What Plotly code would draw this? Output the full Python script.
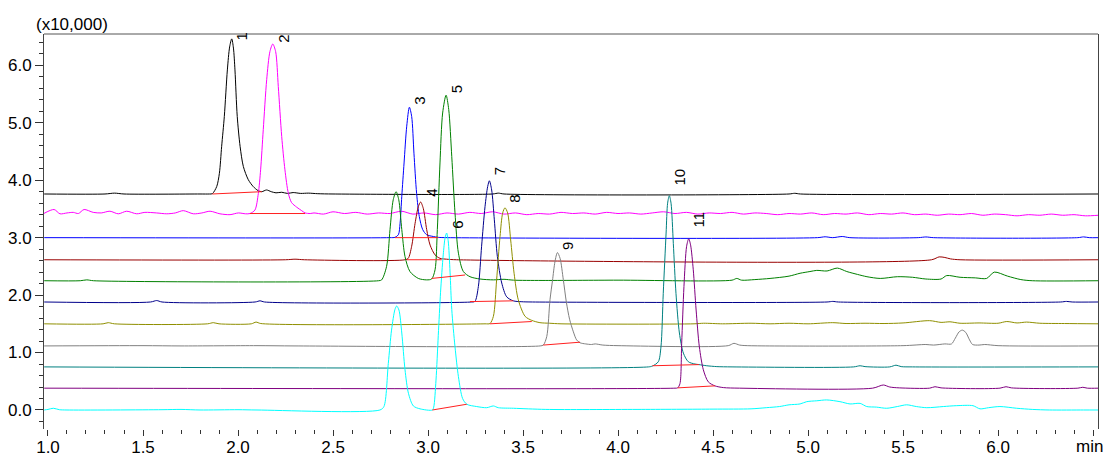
import plotly.graph_objects as go

# Chromatogram channels: (retention time [min], signal [x10,000]) as displayed (stacked offsets)
ch1 = [(0.98, 3.76), (1.30, 3.76), (1.35, 3.775), (1.40, 3.76), (1.80, 3.76), (1.85, 3.76), (1.865, 3.765),
       (1.888, 3.89), (1.902, 4.12), (1.914, 4.59), (1.928, 5.11), (1.944, 5.92), (1.956, 6.32), (1.967, 6.46),
       (1.976, 6.30), (1.984, 5.92), (1.996, 5.11), (2.011, 4.59), (2.028, 4.24), (2.054, 4.01), (2.08, 3.89),
       (2.105, 3.82), (2.125, 3.80), (2.15, 3.83), (2.175, 3.80), (2.20, 3.78), (2.23, 3.79), (2.26, 3.77),
       (2.29, 3.785), (2.33, 3.77), (2.37, 3.775), (2.42, 3.765), (2.50, 3.76), (3.34, 3.76), (3.37, 3.775),
       (3.40, 3.76), (4.90, 3.76), (4.93, 3.772), (4.96, 3.76), (6.53, 3.76)]

ch2 = [(0.975, 3.415), (1.032, 3.49), (1.063, 3.415), (1.10, 3.43), (1.133, 3.44), (1.16, 3.42), (1.19, 3.49),
       (1.238, 3.44), (1.28, 3.43), (1.326, 3.46), (1.37, 3.415), (1.414, 3.46), (1.467, 3.415), (1.51, 3.44),
       (1.572, 3.43), (1.625, 3.415), (1.67, 3.43), (1.712, 3.47), (1.765, 3.415), (1.81, 3.43), (1.853, 3.46),
       (1.905, 3.415), (1.958, 3.40), (2.002, 3.43), (2.04, 3.415), (2.063, 3.42), (2.089, 3.48), (2.107, 3.77),
       (2.119, 4.18), (2.133, 4.88), (2.151, 5.75), (2.168, 6.24), (2.183, 6.37), (2.198, 6.24), (2.212, 5.63),
       (2.23, 4.76), (2.247, 4.18), (2.265, 3.77), (2.282, 3.61), (2.309, 3.53), (2.335, 3.47), (2.353, 3.43),
       (2.38, 3.42), (2.40, 3.43), (2.45, 3.41), (2.50, 3.45), (2.56, 3.42), (2.62, 3.44), (2.68, 3.41),
       (2.74, 3.43), (2.80, 3.42), (2.86, 3.46), (2.92, 3.41), (2.98, 3.43), (3.04, 3.40), (3.10, 3.43),
       (3.16, 3.41), (3.22, 3.44), (3.28, 3.42), (3.34, 3.45), (3.40, 3.41), (3.46, 3.43), (3.52, 3.40),
       (3.58, 3.42), (3.64, 3.41), (3.70, 3.44), (3.76, 3.42), (3.82, 3.43), (3.88, 3.41), (3.94, 3.44),
       (4.00, 3.42), (4.06, 3.43), (4.12, 3.41), (4.18, 3.43), (4.24, 3.45), (4.30, 3.42), (4.36, 3.44),
       (4.42, 3.41), (4.48, 3.43), (4.54, 3.42), (4.60, 3.44), (4.66, 3.41), (4.72, 3.43), (4.78, 3.42),
       (4.84, 3.40), (4.90, 3.42), (4.96, 3.41), (5.02, 3.43), (5.08, 3.40), (5.14, 3.42), (5.20, 3.41),
       (5.26, 3.43), (5.32, 3.40), (5.38, 3.42), (5.44, 3.41), (5.50, 3.43), (5.56, 3.40), (5.62, 3.41),
       (5.68, 3.39), (5.74, 3.41), (5.80, 3.40), (5.86, 3.42), (5.92, 3.39), (5.98, 3.41), (6.04, 3.40),
       (6.10, 3.38), (6.16, 3.40), (6.22, 3.39), (6.28, 3.41), (6.34, 3.39), (6.40, 3.40), (6.46, 3.38),
       (6.53, 3.39)]

ch3 = [(0.98, 3.0), (2.80, 3.0), (2.826, 3.005), (2.844, 3.05), (2.853, 3.25), (2.862, 3.72), (2.874, 4.30),
       (2.888, 4.94), (2.902, 5.27), (2.914, 5.11), (2.926, 4.47), (2.94, 3.77), (2.954, 3.37), (2.972, 3.14),
       (2.993, 3.05), (3.028, 3.02), (3.054, 3.005), (3.10, 3.0), (5.05, 3.0), (5.09, 3.015), (5.13, 3.0),
       (5.18, 3.02), (5.22, 3.0), (5.58, 3.0), (5.62, 3.012), (5.66, 3.0), (6.42, 3.0), (6.45, 3.013),
       (6.48, 3.0), (6.53, 3.0)]

ch4 = [(0.98, 2.615), (2.25, 2.615), (2.30, 2.625), (2.35, 2.615), (2.88, 2.615), (2.896, 2.64), (2.914, 2.85),
       (2.932, 3.25), (2.949, 3.54), (2.961, 3.62), (2.975, 3.51), (2.993, 3.14), (3.011, 2.87), (3.037, 2.70),
       (3.063, 2.64), (3.098, 2.625), (3.15, 2.615), (5.65, 2.615), (5.69, 2.665), (5.72, 2.655), (5.75, 2.63),
       (5.80, 2.615), (6.53, 2.615)]

ch5 = [(0.98, 2.25), (1.17, 2.25), (1.204, 2.265), (1.24, 2.25), (2.74, 2.25), (2.756, 2.265), (2.782, 2.50),
       (2.80, 3.14), (2.817, 3.66), (2.832, 3.80), (2.846, 3.66), (2.862, 3.14), (2.879, 2.67), (2.905, 2.41),
       (2.949, 2.29), (2.993, 2.265), (3.019, 2.28), (3.037, 2.44), (3.049, 3.14), (3.063, 4.30), (3.077, 5.17),
       (3.095, 5.48), (3.109, 5.23), (3.125, 4.41), (3.142, 3.43), (3.16, 2.73), (3.186, 2.41), (3.221, 2.32),
       (3.274, 2.28), (3.344, 2.265), (3.40, 2.275), (3.45, 2.26), (3.60, 2.255), (4.00, 2.26), (4.60, 2.26),
       (4.625, 2.29), (4.65, 2.26), (4.72, 2.27), (4.80, 2.29), (4.90, 2.33), (4.958, 2.38), (5.01, 2.41),
       (5.046, 2.43), (5.10, 2.42), (5.154, 2.47), (5.204, 2.41), (5.26, 2.36), (5.31, 2.32), (5.38, 2.29),
       (5.47, 2.32), (5.55, 2.31), (5.62, 2.28), (5.70, 2.28), (5.73, 2.34), (5.80, 2.31), (5.88, 2.30),
       (5.94, 2.29), (5.98, 2.40), (6.05, 2.33), (6.12, 2.27), (6.18, 2.25), (6.53, 2.25)]

ch6 = [(0.98, 1.88), (1.54, 1.88), (1.572, 1.905), (1.60, 1.88), (2.09, 1.88), (2.116, 1.90), (2.14, 1.88),
       (3.23, 1.88), (3.247, 1.89), (3.265, 2.15), (3.282, 2.85), (3.30, 3.54), (3.314, 3.89), (3.323, 3.99),
       (3.335, 3.83), (3.349, 3.31), (3.365, 2.67), (3.388, 2.21), (3.414, 1.97), (3.449, 1.90), (3.49, 1.885),
       (3.55, 1.88), (5.10, 1.88), (5.13, 1.89), (5.16, 1.88), (6.33, 1.88), (6.36, 1.89), (6.39, 1.88),
       (6.53, 1.88)]

ch7 = [(0.98, 1.50), (1.29, 1.50), (1.317, 1.52), (1.35, 1.50), (1.84, 1.50), (1.87, 1.52), (1.90, 1.50),
       (2.07, 1.50), (2.095, 1.53), (2.12, 1.505), (3.30, 1.50), (3.326, 1.505), (3.344, 1.63), (3.361, 2.265),
       (3.379, 3.02), (3.393, 3.43), (3.405, 3.52), (3.419, 3.43), (3.435, 2.96), (3.453, 2.38), (3.475, 1.92),
       (3.511, 1.63), (3.546, 1.56), (3.589, 1.52), (3.64, 1.51), (3.70, 1.50), (4.40, 1.50), (4.45, 1.51),
       (4.55, 1.50), (4.70, 1.51), (4.80, 1.50), (4.90, 1.51), (5.00, 1.50), (5.13, 1.52), (5.20, 1.505),
       (5.30, 1.51), (5.40, 1.505), (5.50, 1.515), (5.64, 1.555), (5.70, 1.525), (5.747, 1.535), (5.80, 1.51),
       (5.90, 1.515), (6.00, 1.51), (6.046, 1.54), (6.10, 1.515), (6.15, 1.53), (6.22, 1.51), (6.35, 1.505),
       (6.53, 1.50)]

ch8 = [(0.98, 1.115), (1.50, 1.12), (1.70, 1.115), (2.10, 1.12), (2.30, 1.115), (3.59, 1.115), (3.607, 1.13),
       (3.625, 1.28), (3.642, 1.92), (3.655, 2.25), (3.668, 2.58), (3.681, 2.74), (3.695, 2.64), (3.712, 2.27),
       (3.728, 1.88), (3.745, 1.58), (3.765, 1.36), (3.782, 1.22), (3.80, 1.17), (3.83, 1.15), (3.86, 1.14),
       (3.88, 1.15), (3.92, 1.13), (4.00, 1.12), (4.58, 1.12), (4.61, 1.16), (4.64, 1.13), (4.68, 1.12),
       (5.50, 1.12), (5.62, 1.14), (5.66, 1.13), (5.72, 1.15), (5.755, 1.15), (5.775, 1.25), (5.795, 1.36),
       (5.812, 1.39), (5.83, 1.35), (5.85, 1.22), (5.866, 1.14), (5.90, 1.13), (5.93, 1.14), (6.00, 1.12),
       (6.53, 1.115)]

ch9 = [(0.98, 0.75), (4.16, 0.75), (4.181, 0.765), (4.212, 0.84), (4.226, 1.10), (4.238, 2.03), (4.253, 3.08),
       (4.261, 3.60), (4.27, 3.73), (4.279, 3.60), (4.291, 2.90), (4.305, 2.03), (4.323, 1.34), (4.344, 0.99),
       (4.37, 0.84), (4.405, 0.80), (4.426, 0.79), (4.467, 0.77), (4.52, 0.755), (4.60, 0.75), (5.24, 0.75),
       (5.274, 0.77), (5.30, 0.755), (5.43, 0.75), (5.463, 0.78), (5.49, 0.755), (5.55, 0.75), (6.53, 0.75)]

ch10 = [(0.98, 0.38), (4.30, 0.38), (4.314, 0.385), (4.326, 0.46), (4.335, 1.16), (4.347, 2.15), (4.361, 2.85),
        (4.372, 2.98), (4.382, 2.87), (4.396, 2.44), (4.411, 1.74), (4.428, 1.10), (4.449, 0.70), (4.475, 0.49),
        (4.51, 0.42), (4.554, 0.39), (4.64, 0.38), (5.34, 0.38), (5.396, 0.435), (5.43, 0.40), (5.48, 0.385),
        (5.64, 0.38), (5.668, 0.405), (5.70, 0.385), (6.01, 0.38), (6.042, 0.405), (6.07, 0.385), (6.42, 0.38),
        (6.446, 0.395), (6.47, 0.38), (6.53, 0.38)]

ch11 = [(0.98, 0.0), (1.00, 0.01), (1.028, 0.03), (1.06, 0.005), (1.10, 0.0), (1.60, 0.005), (1.70, 0.01),
        (1.80, 0.0), (2.00, 0.005), (2.10, 0.0), (2.747, 0.0), (2.768, 0.06), (2.791, 0.81), (2.808, 1.39),
        (2.826, 1.75), (2.835, 1.81), (2.847, 1.74), (2.862, 1.34), (2.879, 0.70), (2.897, 0.29), (2.923, 0.07),
        (2.958, 0.02), (3.023, 0.0), (3.03, 0.05), (3.042, 0.52), (3.054, 1.30), (3.066, 2.05), (3.08, 2.70),
        (3.09, 3.0), (3.098, 3.08), (3.106, 2.95), (3.116, 2.40), (3.125, 1.75), (3.142, 1.10), (3.16, 0.58),
        (3.182, 0.20), (3.204, 0.10), (3.256, 0.06), (3.309, 0.04), (3.344, 0.07), (3.37, 0.04), (3.45, 0.03),
        (3.62, 0.01), (4.10, 0.01), (4.50, 0.015), (4.70, 0.02), (4.78, 0.04), (4.85, 0.06), (4.90, 0.09),
        (4.958, 0.105), (4.993, 0.145), (5.046, 0.16), (5.098, 0.175), (5.168, 0.145), (5.221, 0.105),
        (5.274, 0.115), (5.309, 0.06), (5.36, 0.05), (5.414, 0.03), (5.47, 0.06), (5.519, 0.09), (5.57, 0.06),
        (5.625, 0.04), (5.712, 0.06), (5.78, 0.075), (5.868, 0.075), (5.905, 0.02), (5.95, 0.04), (6.01, 0.06),
        (6.098, 0.03), (6.18, 0.01), (6.27, 0.0), (6.45, 0.0), (6.53, 0.0)]

# Peak numbers with apex position
peak_ids = ["1", "2", "3", "4", "5", "6", "7", "8", "9", "10", "11"]
peak_rt = [1.967, 2.183, 2.902, 2.961, 3.095, 3.098, 3.323, 3.405, 3.681, 4.27, 4.372]
peak_top = [6.46, 6.37, 5.27, 3.62, 5.48, 3.08, 3.99, 3.52, 2.74, 3.73, 2.98]

# Integration baselines (start / end of each peak)
int_t0 = [1.865, 2.063, 2.826, 2.888, 3.019, 3.023, 3.221, 3.326, 3.607, 4.181, 4.314]
int_y0 = [3.76, 3.42, 3.0, 2.615, 2.29, 0.0, 1.887, 1.50, 1.13, 0.77, 0.385]
int_t1 = [2.125, 2.353, 3.054, 3.072, 3.195, 3.204, 3.449, 3.546, 3.80, 4.426, 4.51]
int_y1 = [3.80, 3.42, 3.0, 2.615, 2.35, 0.10, 1.90, 1.54, 1.18, 0.79, 0.42]

x_ticks = [1.0, 1.5, 2.0, 2.5, 3.0, 3.5, 4.0, 4.5, 5.0, 5.5, 6.0, 6.5]
x_ticktext = ["1.0", "1.5", "2.0", "2.5", "3.0", "3.5", "4.0", "4.5", "5.0", "5.5", "6.0", ""]
x_unit = "min"
y_ticks = [0, 1, 2, 3, 4, 5, 6]
y_ticktext = ["0.0", "1.0", "2.0", "3.0", "4.0", "5.0", "6.0"]

channels = [ch1, ch2, ch3, ch4, ch5, ch6, ch7, ch8, ch9, ch10, ch11]
colors = ["#000000", "#ff00ff", "#0000ff", "#990000", "#008000", "#00008b",
          "#8f8f00", "#808080", "#008080", "#800080", "#00ffff"]

FONT = "Liberation Sans, Arial, sans-serif"

fig = go.Figure()
for pts, col in zip(channels, colors):
    fig.add_trace(go.Scatter(
        x=[p[0] for p in pts], y=[p[1] for p in pts], mode="lines",
        line=dict(color=col, width=1, shape="spline", smoothing=0.8),
        hoverinfo="skip", showlegend=False))

# integration baselines in red
bx, by = [], []
for a, b, c, d in zip(int_t0, int_y0, int_t1, int_y1):
    bx += [a, c, None]
    by += [b, d, None]
fig.add_trace(go.Scatter(x=bx, y=by, mode="lines", line=dict(color="#ff2020", width=1),
                         hoverinfo="skip", showlegend=False))

# vertical peak numbers beside each apex
label_dy = {"1": -4, "2": -1, "3": 1, "4": 3, "5": 0, "6": 2, "7": 4, "8": 3, "9": 1, "10": 8, "11": 9}
for pid, t, h in zip(peak_ids, peak_rt, peak_top):
    fig.add_annotation(x=t, y=h, text=pid, textangle=-90, showarrow=False,
                       xanchor="center", yanchor="bottom", xshift=10, yshift=label_dy[pid],
                       font=dict(family=FONT, size=15, color="#000000"))

fig.add_annotation(xref="paper", yref="paper", x=0, y=1, text="(x10,000)", showarrow=False,
                   xanchor="left", yanchor="bottom", xshift=-10, yshift=-2,
                   font=dict(family=FONT, size=17, color="#000000"))

# axis unit under the last x tick
fig.add_annotation(xref="x", yref="paper", x=6.5, y=0, text=x_unit, showarrow=False,
                   xanchor="center", yanchor="top", xshift=-4, yshift=-6,
                   font=dict(family=FONT, size=17, color="#000000"))

# top frame edge
fig.add_shape(type="line", xref="paper", yref="paper", x0=0, x1=1, y0=1, y1=1,
              line=dict(color="#555555", width=1))

fig.update_layout(
    width=1105, height=458,
    margin=dict(l=44, r=7, t=34, b=29, autoexpand=False),
    paper_bgcolor="white", plot_bgcolor="white",
    font=dict(family=FONT, color="#000000"),
    xaxis=dict(range=[0.979, 6.526], tickmode="array", tickvals=x_ticks, ticktext=x_ticktext,
               ticks="outside", ticklen=6, tickwidth=1, tickcolor="#333333",
               showline=False, showgrid=False, zeroline=False, automargin=False,
               ticklabelstandoff=-3,
               tickfont=dict(family=FONT, size=17),
               minor=dict(dtick=0.1, tick0=0, ticks="outside", ticklen=4, tickcolor="#333333",
                          showgrid=False)),
    yaxis=dict(range=[-0.331, 6.545], tickmode="array", tickvals=y_ticks, ticktext=y_ticktext,
               ticks="outside", ticklen=8, tickwidth=1, tickcolor="#333333",
               showline=True, linecolor="#444444", linewidth=1, mirror=True,
               showgrid=False, zeroline=False, automargin=False,
               tickfont=dict(family=FONT, size=17),
               minor=dict(dtick=0.2, tick0=0, ticks="outside", ticklen=4, tickcolor="#333333",
                          showgrid=False)),
)

fig.write_html("out.html")
